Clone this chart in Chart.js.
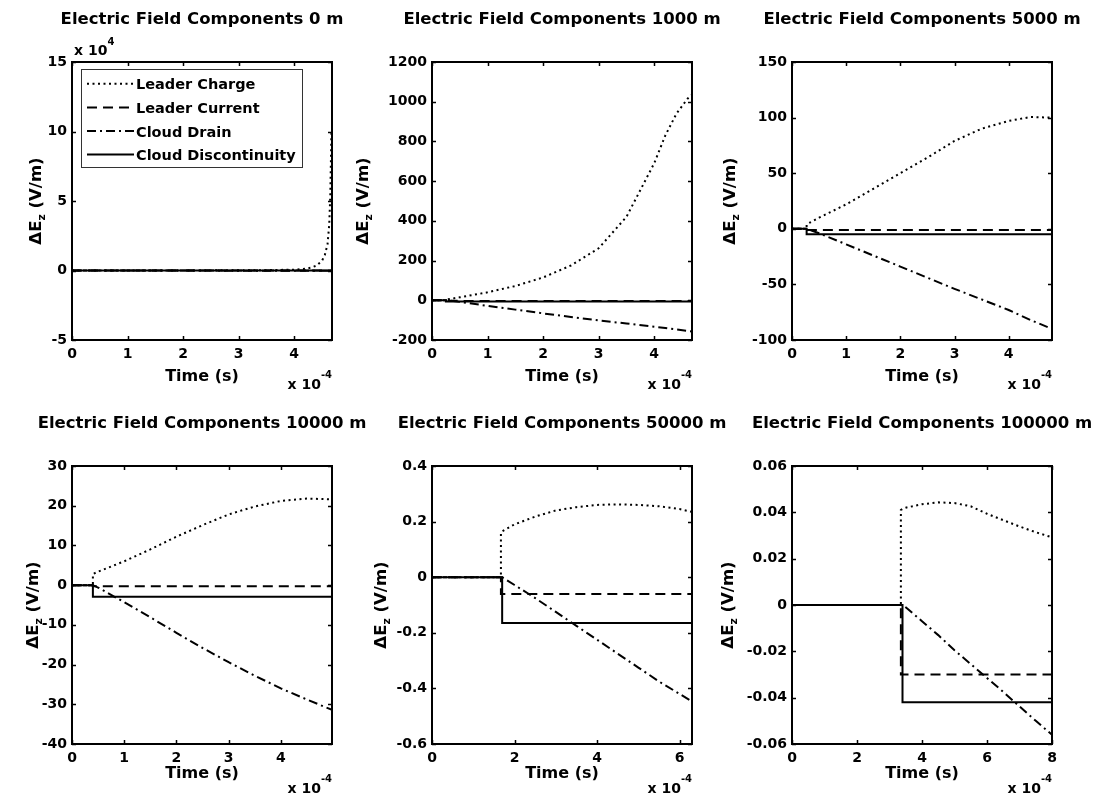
<!DOCTYPE html>
<html>
<head>
<meta charset="utf-8">
<script src="https://cdn.jsdelivr.net/npm/chart.js"></script>
<style>
  html, body { margin: 0; padding: 0; background: #fff; overflow: hidden; width: 1094px; height: 797px; position: relative; }
  canvas { position: absolute; }
</style>
</head>
<body>
<canvas id="c0"></canvas>
<canvas id="c1"></canvas>
<canvas id="c2"></canvas>
<canvas id="c3"></canvas>
<canvas id="c4"></canvas>
<canvas id="c5"></canvas>
<script>
// ---- data (time in units of 1e-4 s) ----
const distances = [0, 1000, 5000, 10000, 50000, 100000];
const seriesNames = ["Leader Charge", "Leader Current", "Cloud Drain", "Cloud Discontinuity"];

// 0 m  (field in units of 1e4 V/m)
const t0m       = [0, 0.25, 1, 2, 3, 3.5, 4, 4.2, 4.3, 4.4, 4.5, 4.55, 4.6, 4.63, 4.65, 4.67];
const charge0m  = [0, 0, 0.002, 0.005, 0.012, 0.025, 0.06, 0.12, 0.2, 0.35, 0.7, 1.1, 1.9, 3.3, 5.5, 10];
const current0m = [0, 0, -0.0003, -0.0003, -0.0003, -0.0003, -0.0003, -0.0003, -0.0003, -0.0003, -0.0003, -0.0003, -0.0003, -0.0003, -0.0003, -0.0003];
const drain0m   = [0, 0, -0.003, -0.007, -0.01, -0.012, -0.013, -0.014, -0.014, -0.015, -0.015, -0.015, -0.016, -0.016, -0.016, -0.016];
const disc0m    = [0, 0, -0.0006, -0.0006, -0.0006, -0.0006, -0.0006, -0.0006, -0.0006, -0.0006, -0.0006, -0.0006, -0.0006, -0.0006, -0.0006, -0.0006];
const xTicks0m  = [0, 1, 2, 3, 4];
const yTicks0m  = [-5, 0, 5, 10, 15];

// 1000 m
const t1000       = [0, 0.25, 0.25, 0.5, 1, 1.5, 2, 2.5, 3, 3.5, 4, 4.2, 4.4, 4.6, 4.68];
const charge1000  = [0, 0, 3, 15, 40, 72, 115, 175, 262, 420, 690, 830, 940, 1015, 1035];
const current1000 = [0, 0, -2, -3, -3, -3, -3, -3, -3, -3, -3, -3, -3, -3, -3];
const drain1000   = [0, 0, 0, -8, -28, -47, -66, -84, -101, -117, -133, -140, -147, -154, -157];
const disc1000    = [0, 0, -6, -6, -6, -6, -6, -6, -6, -6, -6, -6, -6, -6, -6];
const xTicks1000  = [0, 1, 2, 3, 4];
const yTicks1000  = [-200, 0, 200, 400, 600, 800, 1000, 1200];

// 5000 m
const t5000       = [0, 0.27, 0.27, 0.5, 1, 1.5, 2, 2.5, 3, 3.5, 4, 4.4, 4.8];
const charge5000  = [0, 0, 4, 10, 22, 36, 50, 64, 79, 90, 97, 100.5, 100];
const current5000 = [0, 0, -1, -1, -1, -1, -1, -1, -1, -1, -1, -1, -1];
const drain5000   = [0, 0, 0, -4, -14, -24, -34, -44, -54, -63.5, -73, -82, -90];
const disc5000    = [0, 0, -5, -5, -5, -5, -5, -5, -5, -5, -5, -5, -5];
const xTicks5000  = [0, 1, 2, 3, 4];
const yTicks5000  = [-100, -50, 0, 50, 100, 150];

// 10000 m
const t10000       = [0, 0.4, 0.4, 0.5, 1, 1.5, 2, 2.5, 3, 3.5, 4, 4.5, 4.98];
const charge10000  = [0, 0, 2.8, 3.4, 6.0, 9.0, 12.2, 15.1, 17.8, 19.8, 21.2, 21.8, 21.6];
const current10000 = [0, 0, -0.3, -0.3, -0.3, -0.3, -0.3, -0.3, -0.3, -0.3, -0.3, -0.3, -0.3];
const drain10000   = [0, 0, 0, -0.6, -4.3, -8.1, -12, -15.8, -19.4, -22.8, -26, -28.8, -31.4];
const disc10000    = [0, 0, -2.9, -2.9, -2.9, -2.9, -2.9, -2.9, -2.9, -2.9, -2.9, -2.9, -2.9];
const xTicks10000  = [0, 1, 2, 3, 4];
const yTicks10000  = [-40, -30, -20, -10, 0, 10, 20, 30];

// 50000 m
const t50000       = [0, 1.67, 1.67, 1.7, 1.7, 2, 2.5, 3, 3.5, 4, 4.5, 5, 5.5, 6, 6.3];
const charge50000  = [0, 0, 0.155, 0.165, 0.165, 0.19, 0.218, 0.24, 0.252, 0.26, 0.262, 0.26, 0.255, 0.245, 0.235];
const current50000 = [0, 0, -0.06, -0.06, -0.06, -0.06, -0.06, -0.06, -0.06, -0.06, -0.06, -0.06, -0.06, -0.06, -0.06];
const drain50000   = [0, 0, 0, 0, 0, -0.028, -0.075, -0.125, -0.175, -0.225, -0.275, -0.325, -0.375, -0.42, -0.447];
const disc50000    = [0, 0, 0, 0, -0.165, -0.165, -0.165, -0.165, -0.165, -0.165, -0.165, -0.165, -0.165, -0.165, -0.165];
const xTicks50000  = [0, 2, 4, 6];
const yTicks50000  = [-0.6, -0.4, -0.2, 0, 0.2, 0.4];

// 100000 m
const t100000       = [0, 3.35, 3.35, 3.4, 3.4, 3.5, 4, 4.5, 5, 5.5, 6, 6.5, 7, 7.5, 8];
const charge100000  = [0, 0, 0.041, 0.0415, 0.0415, 0.042, 0.0435, 0.0443, 0.044, 0.0426, 0.0394, 0.0366, 0.0339, 0.0314, 0.0292];
const current100000 = [0, 0, -0.03, -0.03, -0.03, -0.03, -0.03, -0.03, -0.03, -0.03, -0.03, -0.03, -0.03, -0.03, -0.03];
const drain100000   = [0, 0, 0, 0, 0, -0.001, -0.007, -0.013, -0.0195, -0.0255, -0.0315, -0.0375, -0.0438, -0.05, -0.056];
const disc100000    = [0, 0, 0, 0, -0.042, -0.042, -0.042, -0.042, -0.042, -0.042, -0.042, -0.042, -0.042, -0.042, -0.042];
const xTicks100000  = [0, 2, 4, 6, 8];
const yTicks100000  = [-0.06, -0.04, -0.02, 0, 0.02, 0.04, 0.06];

// ---- layout / style ----
const FONT = "'DejaVu Sans', sans-serif";
const PLOT_W = 260, PLOT_H = 278, SIDE = 92, TITLE_H = 62;
const dashes = [[2, 3.5], [10, 6], [9, 4, 2, 4], []];

const panels = [
  { t: t0m, v: [charge0m, current0m, drain0m, disc0m], xTicks: xTicks0m, yTicks: yTicks0m, xMax: 4.68, left: 72, top: 62, ylabOff: 37.5, yExp: "4", legend: true },
  { t: t1000, v: [charge1000, current1000, drain1000, disc1000], xTicks: xTicks1000, yTicks: yTicks1000, xMax: 4.68, left: 432, top: 62, ylabOff: 70 },
  { t: t5000, v: [charge5000, current5000, drain5000, disc5000], xTicks: xTicks5000, yTicks: yTicks5000, xMax: 4.8, left: 792, top: 62, ylabOff: 63 },
  { t: t10000, v: [charge10000, current10000, drain10000, disc10000], xTicks: xTicks10000, yTicks: yTicks10000, xMax: 4.98, left: 72, top: 466, ylabOff: 40 },
  { t: t50000, v: [charge50000, current50000, drain50000, disc50000], xTicks: xTicks50000, yTicks: yTicks50000, xMax: 6.3, left: 432, top: 466, ylabOff: 52 },
  { t: t100000, v: [charge100000, current100000, drain100000, disc100000], xTicks: xTicks100000, yTicks: yTicks100000, xMax: 8, left: 792, top: 466, ylabOff: 65 }
];

function font(size) { return "bold " + size + "px " + FONT; }

// text with a raised or lowered small part
function drawParts(ctx, parts, x, y) {
  parts.forEach(p => {
    ctx.font = font(p.size);
    ctx.fillText(p.text, x, y + (p.dy || 0));
    x += ctx.measureText(p.text).width;
  });
}
function partsWidth(ctx, parts) {
  return parts.reduce((w, p) => { ctx.font = font(p.size); return w + ctx.measureText(p.text).width; }, 0);
}

// matlab style box, inward ticks, ylabel, exponent labels, legend
const decor = {
  id: "decor",
  afterDatasetsDraw(chart, args, o) {
    const { ctx, chartArea: a, scales: { x, y } } = chart;
    ctx.save();
    ctx.strokeStyle = "#000";
    ctx.lineWidth = 1.5;
    ctx.setLineDash([]);
    ctx.beginPath();
    x.ticks.forEach(t => {
      const px = Math.round(x.getPixelForValue(t.value)) + 0.5;
      ctx.moveTo(px, a.bottom); ctx.lineTo(px, a.bottom - 4);
      ctx.moveTo(px, a.top); ctx.lineTo(px, a.top + 4);
    });
    y.ticks.forEach(t => {
      const py = Math.round(y.getPixelForValue(t.value)) + 0.5;
      ctx.moveTo(a.left, py); ctx.lineTo(a.left + 4, py);
      ctx.moveTo(a.right, py); ctx.lineTo(a.right - 4, py);
    });
    ctx.stroke();
    ctx.lineWidth = 2;
    ctx.strokeRect(a.left, a.top, a.right - a.left, a.bottom - a.top);
    ctx.restore();
  },
  afterDraw(chart, args, o) {
    const { ctx, chartArea: a } = chart;
    ctx.save();
    ctx.fillStyle = "#000";
    ctx.textBaseline = "alphabetic";
    ctx.textAlign = "left";

    // y label: ΔE_z (V/m)
    const yl = [{ text: "\u0394E", size: 16.5 }, { text: "z", size: 11, dy: 4 }, { text: " (V/m)", size: 16.5 }];
    ctx.save();
    ctx.translate(a.left - o.ylabOff, (a.top + a.bottom) / 2);
    ctx.rotate(-Math.PI / 2);
    drawParts(ctx, yl, -partsWidth(ctx, yl) / 2, 6);
    ctx.restore();

    // x exponent
    const xe = [{ text: "x 10", size: 14 }, { text: "-4", size: 10, dy: -11 }];
    drawParts(ctx, xe, a.right - partsWidth(ctx, xe), a.bottom + 49);

    // y exponent
    if (o.yExp) {
      const ye = [{ text: "x 10", size: 14 }, { text: o.yExp, size: 10, dy: -10 }];
      drawParts(ctx, ye, a.left + 2, a.top - 7);
    }

    // legend
    if (o.legend) {
      const bx = a.left + 9, by = a.top + 7;
      ctx.fillStyle = "#fff";
      ctx.fillRect(bx, by, 221, 98);
      ctx.strokeStyle = "#333";
      ctx.lineWidth = 1;
      ctx.setLineDash([]);
      ctx.strokeRect(bx + 0.5, by + 0.5, 221, 98);
      ctx.fillStyle = "#000";
      ctx.font = font(14.5);
      chart.data.datasets.forEach((ds, i) => {
        const base = a.top + 27.3 + i * 23.6;
        ctx.strokeStyle = "#000";
        ctx.lineWidth = ds.borderWidth;
        ctx.setLineDash(ds.borderDash);
        ctx.beginPath();
        ctx.moveTo(a.left + 15, base - 5.5);
        ctx.lineTo(a.left + 62, base - 5.5);
        ctx.stroke();
        ctx.fillText(ds.label, a.left + 64, base);
      });
    }
    ctx.restore();
  }
};

function fmt(v) { return String(parseFloat(v.toFixed(6))); }

panels.forEach((p, i) => {
  const row = i < 3 ? 0 : 1;
  const canvas = document.getElementById("c" + i);
  const W = PLOT_W + 2 * SIDE;
  const H = row === 0 ? 400 : 393;
  const axisH = H - TITLE_H - PLOT_H;
  canvas.width = W; canvas.height = H;
  canvas.style.width = W + "px"; canvas.style.height = H + "px";
  canvas.style.left = (p.left - SIDE) + "px";
  canvas.style.top = (p.top - TITLE_H) + "px";

  const datasets = seriesNames.map((name, k) => ({
    label: name,
    data: p.t.map((tt, j) => ({ x: tt, y: p.v[k][j] })),
    borderColor: "#000",
    borderWidth: 2,
    borderDash: dashes[k],
    pointRadius: 0,
    fill: false,
    tension: 0,
    order: 3 - k
  }));

  const tickFont = { family: FONT, size: 14, weight: "bold" };

  new Chart(canvas, {
    type: "line",
    data: { datasets },
    options: {
      responsive: false,
      animation: false,
      devicePixelRatio: 1,
      layout: { padding: 0 },
      plugins: {
        legend: { display: false },
        tooltip: { enabled: false },
        title: {
          display: true,
          text: "Electric Field Components " + distances[i] + " m",
          color: "#000",
          font: { family: FONT, size: 16.5, weight: "bold", lineHeight: 1.2 },
          padding: { top: 10, bottom: 32.2 }
        },
        decor: { ylabOff: p.ylabOff, yExp: p.yExp, legend: !!p.legend }
      },
      scales: {
        x: {
          type: "linear",
          min: 0,
          max: p.xMax,
          grid: { display: false, drawTicks: false },
          border: { display: false },
          ticks: {
            stepSize: p.xTicks[1] - p.xTicks[0],
            includeBounds: false,
            autoSkip: false,
            maxRotation: 0,
            padding: 6,
            color: "#000",
            font: tickFont,
            callback: fmt
          },
          title: {
            display: true,
            text: "Time (s)",
            color: "#000",
            font: { family: FONT, size: 16, weight: "bold", lineHeight: 1.2 },
            padding: { top: 0, bottom: 14 }
          },
          afterFit(s) { s.height = axisH; }
        },
        y: {
          type: "linear",
          min: p.yTicks[0],
          max: p.yTicks[p.yTicks.length - 1],
          grid: { display: false, drawTicks: false },
          border: { display: false },
          ticks: {
            stepSize: p.yTicks[1] - p.yTicks[0],
            includeBounds: false,
            autoSkip: false,
            padding: 5,
            color: "#000",
            font: tickFont,
            callback: fmt
          },
          afterFit(s) { s.width = SIDE; }
        },
        // empty axis on the right, same width as the left one, so the title
        // (centred on the canvas) is centred over the plot box
        yRight: {
          type: "linear",
          position: "right",
          display: true,
          grid: { display: false, drawTicks: false },
          border: { display: false },
          ticks: { display: false },
          afterFit(s) { s.width = SIDE; }
        }
      }
    },
    plugins: [decor]
  });
});
</script>
</body>
</html>
